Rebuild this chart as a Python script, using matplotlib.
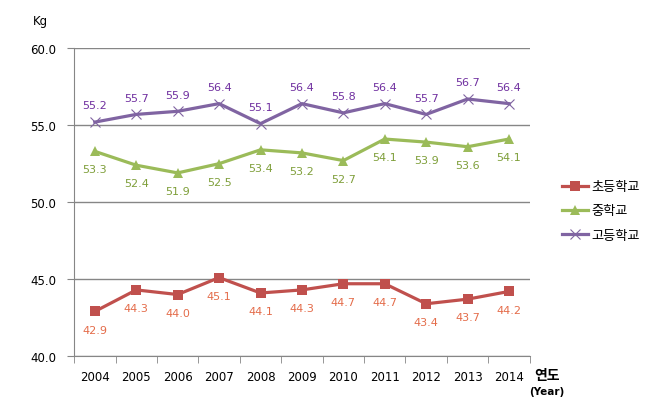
import matplotlib
matplotlib.use("Agg")
import matplotlib.pyplot as plt
import numpy as np

plt.rcParams['font.family'] = ['DejaVu Sans', 'Noto Sans CJK KR']

years = ['2004', '2005', '2006', '2007', '2008', '2009', '2010', '2011', '2012', '2013', '2014']
elem = [42.9, 44.3, 44.0, 45.1, 44.1, 44.3, 44.7, 44.7, 43.4, 43.7, 44.2]
middle = [53.3, 52.4, 51.9, 52.5, 53.4, 53.2, 52.7, 54.1, 53.9, 53.6, 54.1]
high = [55.2, 55.7, 55.9, 56.4, 55.1, 56.4, 55.8, 56.4, 55.7, 56.7, 56.4]
names = ['초등학교', '중학교', '고등학교']

fig = plt.figure(figsize=(6.5, 4.1), dpi=100)
ax = fig.add_axes([0.114, 0.129, 0.701, 0.751])

x = np.arange(len(years))
series = [
    (elem, '#C0504D', '#E46C4A', 's', -13),
    (middle, '#9BBB59', '#7F9F3A', '^', -13),
    (high, '#8064A2', '#7030A0', 'x', 12),
]
for (vals, col, lab_col, mk, dy), name in zip(series, names):
    ax.plot(x, vals, color=col, lw=2.3, marker=mk, ms=6.5 if mk != 'x' else 7.5,
            mew=0.8 if mk == 'x' else 0, label=name, zorder=3)
    for xi, v in zip(x, vals):
        ax.annotate(f'{v:.1f}', (xi, v), xytext=(0, dy), textcoords='offset points',
                    ha='center', va='center', fontsize=8, color=lab_col)

ax.set_xlim(-0.5, len(years) - 0.5)
ax.set_ylim(40, 60)
ax.set_yticks([40, 45, 50, 55, 60])
ax.set_yticklabels(['40.0', '45.0', '50.0', '55.0', '60.0'], fontsize=8.5)
ax.yaxis.grid(True, color='#868686', lw=1)
ax.set_axisbelow(True)

ax.set_xticks(x)
ax.set_xticklabels(years, fontsize=8.5)
ax.tick_params(axis='x', length=0, pad=10)
ax.set_xticks(np.arange(-0.5, len(years), 1), minor=True)
ax.tick_params(axis='x', which='minor', length=5, color='#868686', direction='out')
ax.tick_params(axis='y', length=5, color='#868686', direction='out', pad=8)

for s in ['top', 'right']:
    ax.spines[s].set_visible(False)
for s in ['left', 'bottom']:
    ax.spines[s].set_color('#868686')

fig.text(40 / 650, 1 - 22 / 410, 'Kg', fontsize=8.5, ha='center', va='center')
fig.text(547 / 650, 1 - 376 / 410, '연도', fontsize=10, ha='center', va='center',
         family=['Noto Sans CJK KR', 'DejaVu Sans'], weight='bold')
fig.text(547 / 650, 1 - 392 / 410, '(Year)', fontsize=7.5, ha='center', va='center', weight='bold')

leg = ax.legend(loc='center left', bbox_to_anchor=(562 / 650, 1 - 212 / 410),
                bbox_transform=fig.transFigure, borderaxespad=0, borderpad=0,
                frameon=False, handlelength=2.0, handletextpad=0.25, labelspacing=0.85,
                prop={'family': ['Noto Sans CJK KR', 'DejaVu Sans'], 'size': 9.5})

fig.savefig('out.png', dpi=100)
